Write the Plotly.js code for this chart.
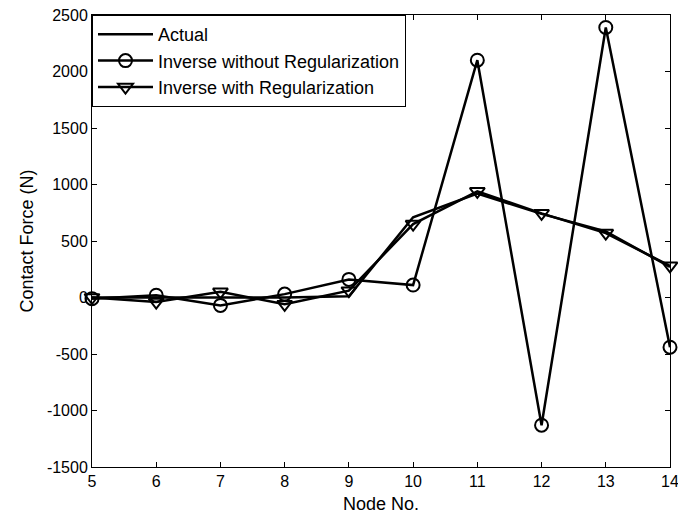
<!DOCTYPE html>
<html>
<head>
<meta charset="utf-8">
<script src="https://cdn.plot.ly/plotly-3.0.1.min.js"></script>
<style>html,body{margin:0;padding:0;background:#fff;}#chart{width:678px;height:521px;}</style>
</head>
<body>
<div id="chart"></div>
<script>
const nodes = [5, 6, 7, 8, 9, 10, 11, 12, 13, 14];
const actual = [0, 0, 0, 0, 10, 710, 920, 740, 585, 270];
const inverseNoReg = [-10, 20, -70, 30, 160, 110, 2100, -1130, 2390, -440];
const inverseReg = [0, -40, 50, -60, 60, 650, 940, 745, 570, 280];
const seriesNames = ["Actual", "Inverse without Regularization", "Inverse with Regularization"];
const xTicks = [5, 6, 7, 8, 9, 10, 11, 12, 13, 14];
const yTicks = [-1500, -1000, -500, 0, 500, 1000, 1500, 2000, 2500];
const yTickText = ["-1500", "-1000", "-500", "0", "500", "1000", "1500", "2000", "2500"];

const font = "Arial, 'Liberation Sans', sans-serif";
const traces = [
  {x: nodes, y: actual, name: seriesNames[0], mode: "lines", cliponaxis: false,
   line: {color: "#000", width: 2.5}},
  {x: nodes, y: inverseNoReg, name: seriesNames[1], mode: "lines+markers", cliponaxis: false,
   line: {color: "#000", width: 2.5},
   marker: {symbol: "circle-open", size: 13, color: "#000", line: {width: 2, color: "#000"}}},
  {x: nodes, y: inverseReg, name: seriesNames[2], mode: "lines+markers", cliponaxis: false,
   line: {color: "#000", width: 2.5},
   marker: {symbol: "triangle-down-open", size: 13, color: "#000", line: {width: 2, color: "#000"}}}
];
const axisCommon = {
  showgrid: false, zeroline: false, showline: true, linecolor: "#000", linewidth: 1,
  mirror: "ticks", ticks: "inside", ticklen: 5, tickcolor: "#000", tickwidth: 1,
  ticklabeloverflow: "allow",
  tickfont: {family: font, size: 16, color: "#000"}
};
const layout = {
  width: 678, height: 521,
  margin: {l: 92, r: 8, t: 15, b: 54},
  paper_bgcolor: "#fff", plot_bgcolor: "#fff",
  showlegend: true,
  legend: {x: 0, y: 1, xanchor: "left", yanchor: "top", bgcolor: "#fff",
    bordercolor: "#000", borderwidth: 1, font: {family: font, size: 18, color: "#000"},
    tracegroupgap: 0, itemwidth: 55},
  xaxis: Object.assign({}, axisCommon, {range: [5, 14], tickvals: xTicks,
    title: {text: "Node No.", font: {family: font, size: 18, color: "#000"}, standoff: 8}}),
  yaxis: Object.assign({}, axisCommon, {range: [-1500, 2500], tickvals: yTicks, ticktext: yTickText,
    title: {text: "Contact Force (N)", font: {family: font, size: 18, color: "#000"}, standoff: 8}})
};
Plotly.newPlot("chart", traces, layout, {displayModeBar: false, staticPlot: true});
</script>
</body>
</html>
